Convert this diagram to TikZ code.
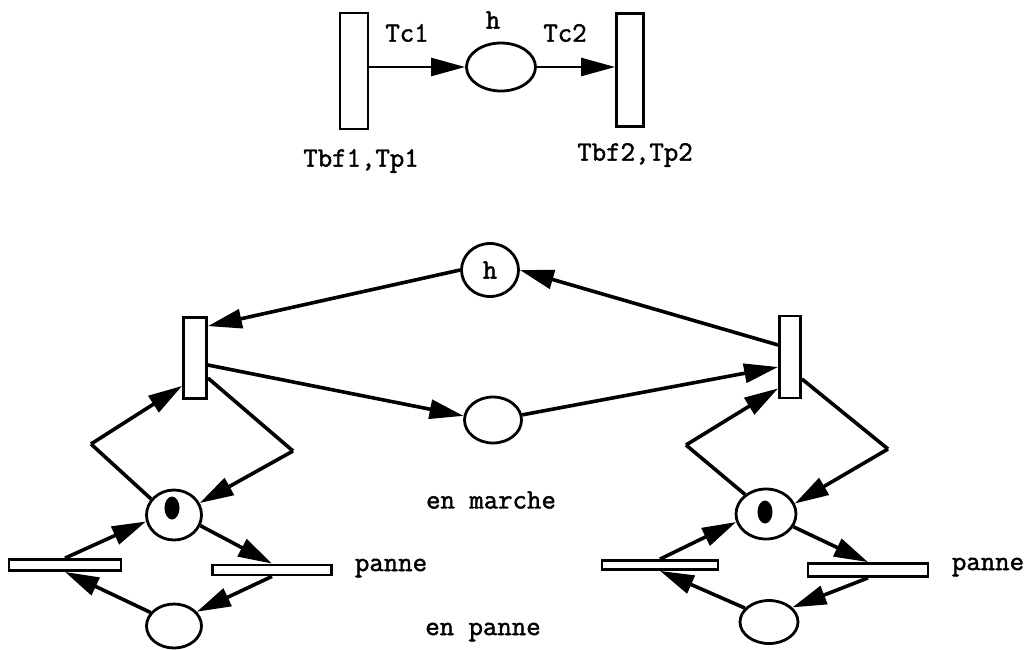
\documentclass[tikz,border=0pt]{standalone}
\usepackage{fontspec}
\newfontfamily\typefont{Latin Modern Mono}[FakeBold=1.6]
\usetikzlibrary{arrows.meta,shapes.geometric}

\begin{document}
\begin{tikzpicture}[x=1pt,y=-1pt,
                        trans/.style={draw,fill=white,line width=2.8pt,inner sep=0pt},
                        place/.style={draw,ellipse,line width=2.8pt,inner sep=0pt},
                        token/.style={fill=black,ellipse,inner sep=0pt,minimum width=15pt,minimum height=23pt},
                        arc/.style={-{Triangle[length=34pt,width=19pt]},line width=3.6pt},
                        thinarc/.style={-{Triangle[length=34pt,width=18pt]},line width=2.6pt},
                        lab/.style={font=\typefont\fontsize{28pt}{32pt}\selectfont,inner sep=0pt}]
      \useasboundingbox (0,0) rectangle (1032,649);

      % top: the two transitions and h
      \node[trans,minimum width=28pt,minimum height=116pt] (tbf1) at (354,71) {};
      \node[place,minimum width=69pt,minimum height=48pt] (hh) at (501,67) {};
      \node[trans,minimum width=27pt,minimum height=113pt] (tbf2) at (630,70) {};
      \draw[thinarc] (tbf1.east |- hh.west) -- (hh.west);
      \draw[thinarc] (hh.east) -- (tbf2.west |- hh.east);
      \node[lab] (tc1) at (407,33) {Tc1};
      \node[lab] (hlab) at (493,20) {h};
      \node[lab] (tc2) at (565,33) {Tc2};
      \node[lab] (tbp1) at (361,161) {Tbf1,Tp1};
      \node[lab] (tbp2) at (635,155) {Tbf2,Tp2};

      % bottom: h, the middle place and the two machines
      \node[place,minimum width=57pt,minimum height=53pt,font=\typefont\fontsize{28pt}{32pt}\selectfont] (hb) at (490,270) {h};
      \node[place,minimum width=57pt,minimum height=46pt] (pm) at (493,420) {};
      \node[trans,minimum width=23pt,minimum height=81pt] (tl) at (195,358) {};
      \node[trans,minimum width=21pt,minimum height=82pt] (tr) at (790,357) {};
      \draw[arc] (hb.west) -- ([yshift=-10pt]tl.north east);
      \draw[arc] ([yshift=-7pt]tl.east) -- (pm.172);
      \draw[arc] (pm.10) -- ([yshift=-10pt]tr.west);
      \draw[arc] ([yshift=12pt]tr.west) -- (hb.east);

      % left machine
      \node[place,minimum width=55pt,minimum height=50pt] (pl1) at (174,515) {};
      \node[token] (tk1) at (172,508) {};
      \node[place,minimum width=55pt,minimum height=44pt] (pb1) at (174,626) {};
      \node[trans,minimum width=112pt,minimum height=11pt] (bl1) at (65,565) {};
      \node[trans,minimum width=119pt,minimum height=10pt] (br1) at (272,570) {};
      \coordinate (cl1) at (91,444);
      \coordinate (cr1) at (293,451);
      \draw[line width=3.6pt] (pl1.145) -- (cl1);
      \draw[arc] (cl1) -- ([yshift=14pt]tl.south west);
      \draw[line width=3.6pt] ([yshift=-20pt]tl.east) -- (cr1);
      \draw[arc] (cr1) -- (pl1.25);
      \draw[arc] (bl1.north) -- (pl1.193);
      \draw[arc] (pl1.-22) -- (br1.north);
      \draw[arc] (br1.south) -- (pb1.32);
      \draw[arc] (pb1.150) -- (bl1.south);

      % right machine
      \node[place,minimum width=60pt,minimum height=50pt] (pl2) at (766,514) {};
      \node[token] (tk2) at (765,512) {};
      \node[place,minimum width=58pt,minimum height=43pt] (pb2) at (769,622) {};
      \node[trans,minimum width=116pt,minimum height=9pt] (bl2) at (660,565) {};
      \node[trans,minimum width=120pt,minimum height=13pt] (br2) at (868,570) {};
      \coordinate (cl2) at (686,445);
      \coordinate (cr2) at (888,449);
      \draw[line width=3.6pt] (pl2.137) -- (cl2);
      \draw[arc] (cl2) -- ([yshift=11pt]tr.south west);
      \draw[line width=3.6pt] ([yshift=-22pt]tr.east) -- (cr2);
      \draw[arc] (cr2) -- (pl2.20);
      \draw[arc] (bl2.north) -- (pl2.195);
      \draw[arc] (pl2.-25) -- (br2.north);
      \draw[arc] (br2.south) -- (pb2.32);
      \draw[arc] (pb2.150) -- (bl2.south);

      \node[lab] (marche) at (491,500) {en marche};
      \node[lab] (enpanne) at (483,632) {en panne};
      \node[lab] (panne1) at (391,568) {panne};
      \node[lab] (panne2) at (988,567) {panne};
    \end{tikzpicture}
\end{document}
